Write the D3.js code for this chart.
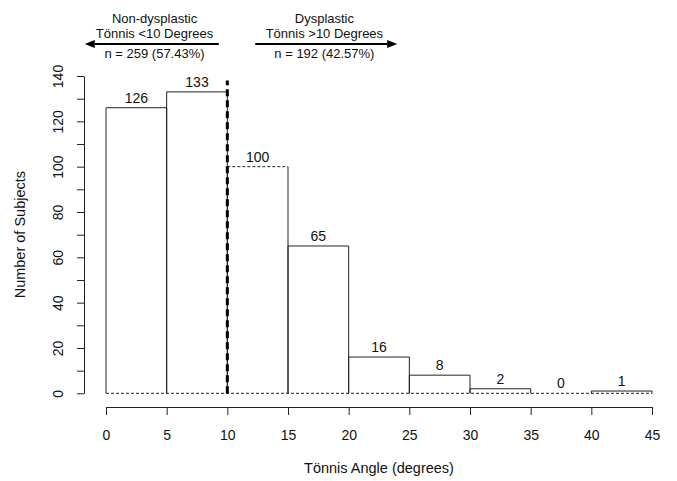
<!DOCTYPE html>
<html>
<head>
<meta charset="utf-8">
<script src="https://cdn.jsdelivr.net/npm/d3@7"></script>
<style>
  body { margin: 0; background: #fff; }
  svg { font-family: "Liberation Sans", Arial, sans-serif; }
</style>
</head>
<body>
<svg id="chart" width="677" height="481"></svg>
<script>
// ---- data ----
const binStarts = [0, 5, 10, 15, 20, 25, 30, 35, 40];
const binWidth = 5;
const counts = [126, 133, 100, 65, 16, 8, 2, 0, 1];
const xTicks = [0, 5, 10, 15, 20, 25, 30, 35, 40, 45];
const yTicks = [0, 10, 20, 30, 40, 50, 60, 70, 80, 90, 100, 110, 120, 130, 140];
const yLabelTicks = [0, 20, 40, 60, 80, 100, 120, 140];
const cutoff = 10;
const cutoffTop = 138;
const groupLabels = [
  ["Non-dysplastic", "Tönnis <10 Degrees", "n = 259 (57.43%)"],
  ["Dysplastic", "Tönnis >10 Degrees", "n = 192 (42.57%)"]
];
const groupCenters = [4, 18];
const arrowFrom = [9.3, 12.3];
const arrowTo = [-1.75, 24.0];
const xTitle = "Tönnis Angle (degrees)";
const yTitle = "Number of Subjects";

// ---- layout ----
const svg = d3.select("#chart");
const x = d3.scaleLinear().domain([0, 45]).range([106, 652]);
const y = d3.scaleLinear().domain([0, 140]).range([393.3, 76]);
const lineCol = "#222";

// baseline dashed
svg.append("line")
  .attr("x1", x(0)).attr("x2", x(45))
  .attr("y1", y(0)).attr("y2", y(0))
  .attr("stroke", lineCol).attr("stroke-width", 1)
  .attr("stroke-dasharray", "3,2");

const bins = binStarts.map((s, i) => ({lo: s, hi: s + binWidth, v: counts[i]}));

// bar sides
const g = svg.append("g");
bins.forEach(b => {
  if (b.v <= 0) return;
  [b.lo, b.hi].forEach(xx => {
    g.append("line")
      .attr("x1", x(xx)).attr("x2", x(xx))
      .attr("y1", y(0)).attr("y2", y(b.v))
      .attr("stroke", lineCol).attr("stroke-width", 1);
  });
  g.append("line")
    .attr("x1", x(b.lo)).attr("x2", x(b.hi))
    .attr("y1", y(b.v)).attr("y2", y(b.v))
    .attr("stroke", lineCol).attr("stroke-width", 1)
    .attr("stroke-dasharray", b.lo === cutoff ? "3,2" : null);
});

// count labels
svg.append("g").selectAll("text").data(bins).join("text")
  .attr("x", d => x((d.lo + d.hi) / 2))
  .attr("y", d => y(d.v) - 5)
  .attr("text-anchor", "middle")
  .attr("font-size", 14)
  .attr("fill", "#111")
  .text(d => d.v);

// cutoff vertical line
svg.append("line")
  .attr("x1", x(cutoff)).attr("x2", x(cutoff))
  .attr("y1", y(0)).attr("y2", y(cutoffTop))
  .attr("stroke", "#000").attr("stroke-width", 3)
  .attr("stroke-dasharray", "7,4");

// x axis
const xAxis = d3.axisBottom(x).tickValues(xTicks).tickSize(8).tickSizeOuter(0).tickPadding(6);
const gx = svg.append("g").attr("transform", "translate(0,407)").call(xAxis);
gx.select(".domain").attr("stroke", lineCol);
gx.selectAll(".tick line").attr("stroke", lineCol);
gx.selectAll(".tick text").attr("font-size", 14).attr("fill", "#111")
  .attr("font-family", "Liberation Sans, Arial, sans-serif").attr("dy", null).attr("y", 33);

// y axis
const yAxis = d3.axisLeft(y).tickValues(yTicks).tickSize(7).tickSizeOuter(0)
  .tickFormat(d => yLabelTicks.includes(d) ? d : "");
const gy = svg.append("g").attr("transform", "translate(84,0)").call(yAxis);
gy.select(".domain").attr("stroke", lineCol);
gy.selectAll(".tick line").attr("stroke", lineCol);
gy.selectAll(".tick text")
  .attr("font-size", 14).attr("fill", "#111")
  .attr("font-family", "Liberation Sans, Arial, sans-serif")
  .attr("text-anchor", "middle")
  .attr("transform", "rotate(-90)")
  .attr("x", 0).attr("y", -21).attr("dy", null);

// axis titles
svg.append("text")
  .attr("x", (x(0) + x(45)) / 2).attr("y", 473)
  .attr("text-anchor", "middle").attr("font-size", 14.5).attr("fill", "#111")
  .text(xTitle);
svg.append("text")
  .attr("transform", `translate(25,${(y(0) + y(140)) / 2}) rotate(-90)`)
  .attr("text-anchor", "middle").attr("font-size", 14.5).attr("fill", "#111")
  .text(yTitle);

// group annotations
const lineYs = [23, 38, 58];
groupLabels.forEach((lines, i) => {
  lines.forEach((t, j) => {
    svg.append("text")
      .attr("x", x(groupCenters[i])).attr("y", lineYs[j])
      .attr("text-anchor", "middle").attr("font-size", 13).attr("fill", "#111")
      .text(t);
  });
  const ay = 44;
  const x0 = x(arrowFrom[i]), x1 = x(arrowTo[i]);
  const dir = Math.sign(x1 - x0);
  const headLen = 10, headHalf = 4;
  svg.append("line")
    .attr("x1", x0).attr("x2", x1 - dir * headLen)
    .attr("y1", ay).attr("y2", ay)
    .attr("stroke", "#000").attr("stroke-width", 2);
  svg.append("path")
    .attr("d", `M${x1},${ay} L${x1 - dir * headLen},${ay - headHalf} L${x1 - dir * headLen},${ay + headHalf} Z`)
    .attr("fill", "#000");
});
</script>
</body>
</html>
